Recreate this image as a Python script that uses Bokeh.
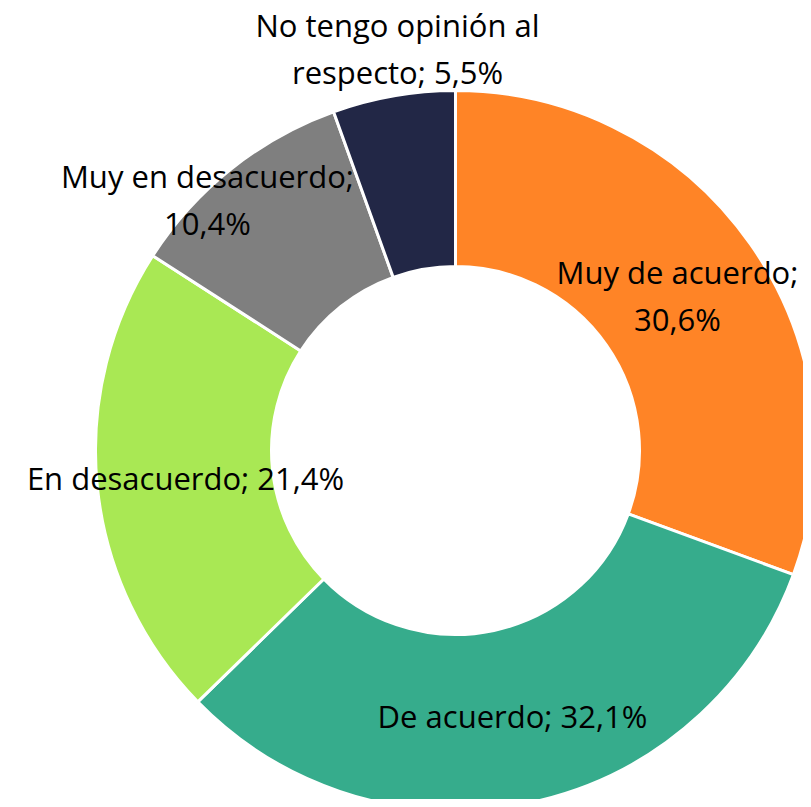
import math
from bokeh.plotting import figure
from bokeh.models import Range1d, ColumnDataSource
from bokeh.core.properties import value
from bokeh.embed import file_html
from bokeh.resources import INLINE

categories = ["Muy de acuerdo", "De acuerdo", "En desacuerdo", "Muy en desacuerdo", "No tengo opinión al respecto"]
percent = [30.6, 32.1, 21.4, 10.4, 5.5]
label_text = ["Muy de acuerdo;\n30,6%", "De acuerdo; 32,1%", "En desacuerdo; 21,4%",
              "Muy en desacuerdo;\n10,4%", "No tengo opinión al\nrespecto; 5,5%"]
colors = ["#FF8426", "#36AC8C", "#A9E854", "#7F7F7F", "#222746"]

# layout (screen pixels, y down)
CX, CY = 455, -450
R_OUT, R_IN = 360, 184
label_offset = [(222, -155), (57, 265), (-270, 27), (-248, -251), (-58, -402)]

total = sum(percent)
starts, ends, lx, ly = [], [], [], []
cum = 0.0
for i, v in enumerate(percent):
    a0 = math.pi / 2 - 2 * math.pi * cum / total
    cum += v
    a1 = math.pi / 2 - 2 * math.pi * cum / total
    starts.append(a0)
    ends.append(a1)
    lx.append(CX + label_offset[i][0])
    ly.append(CY - label_offset[i][1])

src = ColumnDataSource(dict(cat=categories, start=starts, end=ends, color=colors,
                            lx=lx, ly=ly, txt=label_text))

p = figure(width=803, height=799, output_backend="svg", toolbar_location=None,
           x_range=Range1d(0, 803), y_range=Range1d(-799, 0),
           x_axis_type=None, y_axis_type=None, min_border=0)
p.grid.visible = False
p.outline_line_color = None
p.background_fill_color = "white"
p.border_fill_color = "white"

p.annular_wedge(x=CX, y=CY, inner_radius=R_IN, outer_radius=R_OUT,
                start_angle="start", end_angle="end", direction="clock",
                fill_color="color", line_color="white", line_width=3, source=src)

p.text(x="lx", y="ly", text="txt", source=src, text_font=value("Open Sans"),
       text_font_size="31px", text_color="black", text_align="center",
       text_baseline="middle", text_line_height=1.1)

open("out.html", "w").write(file_html(p, INLINE))
